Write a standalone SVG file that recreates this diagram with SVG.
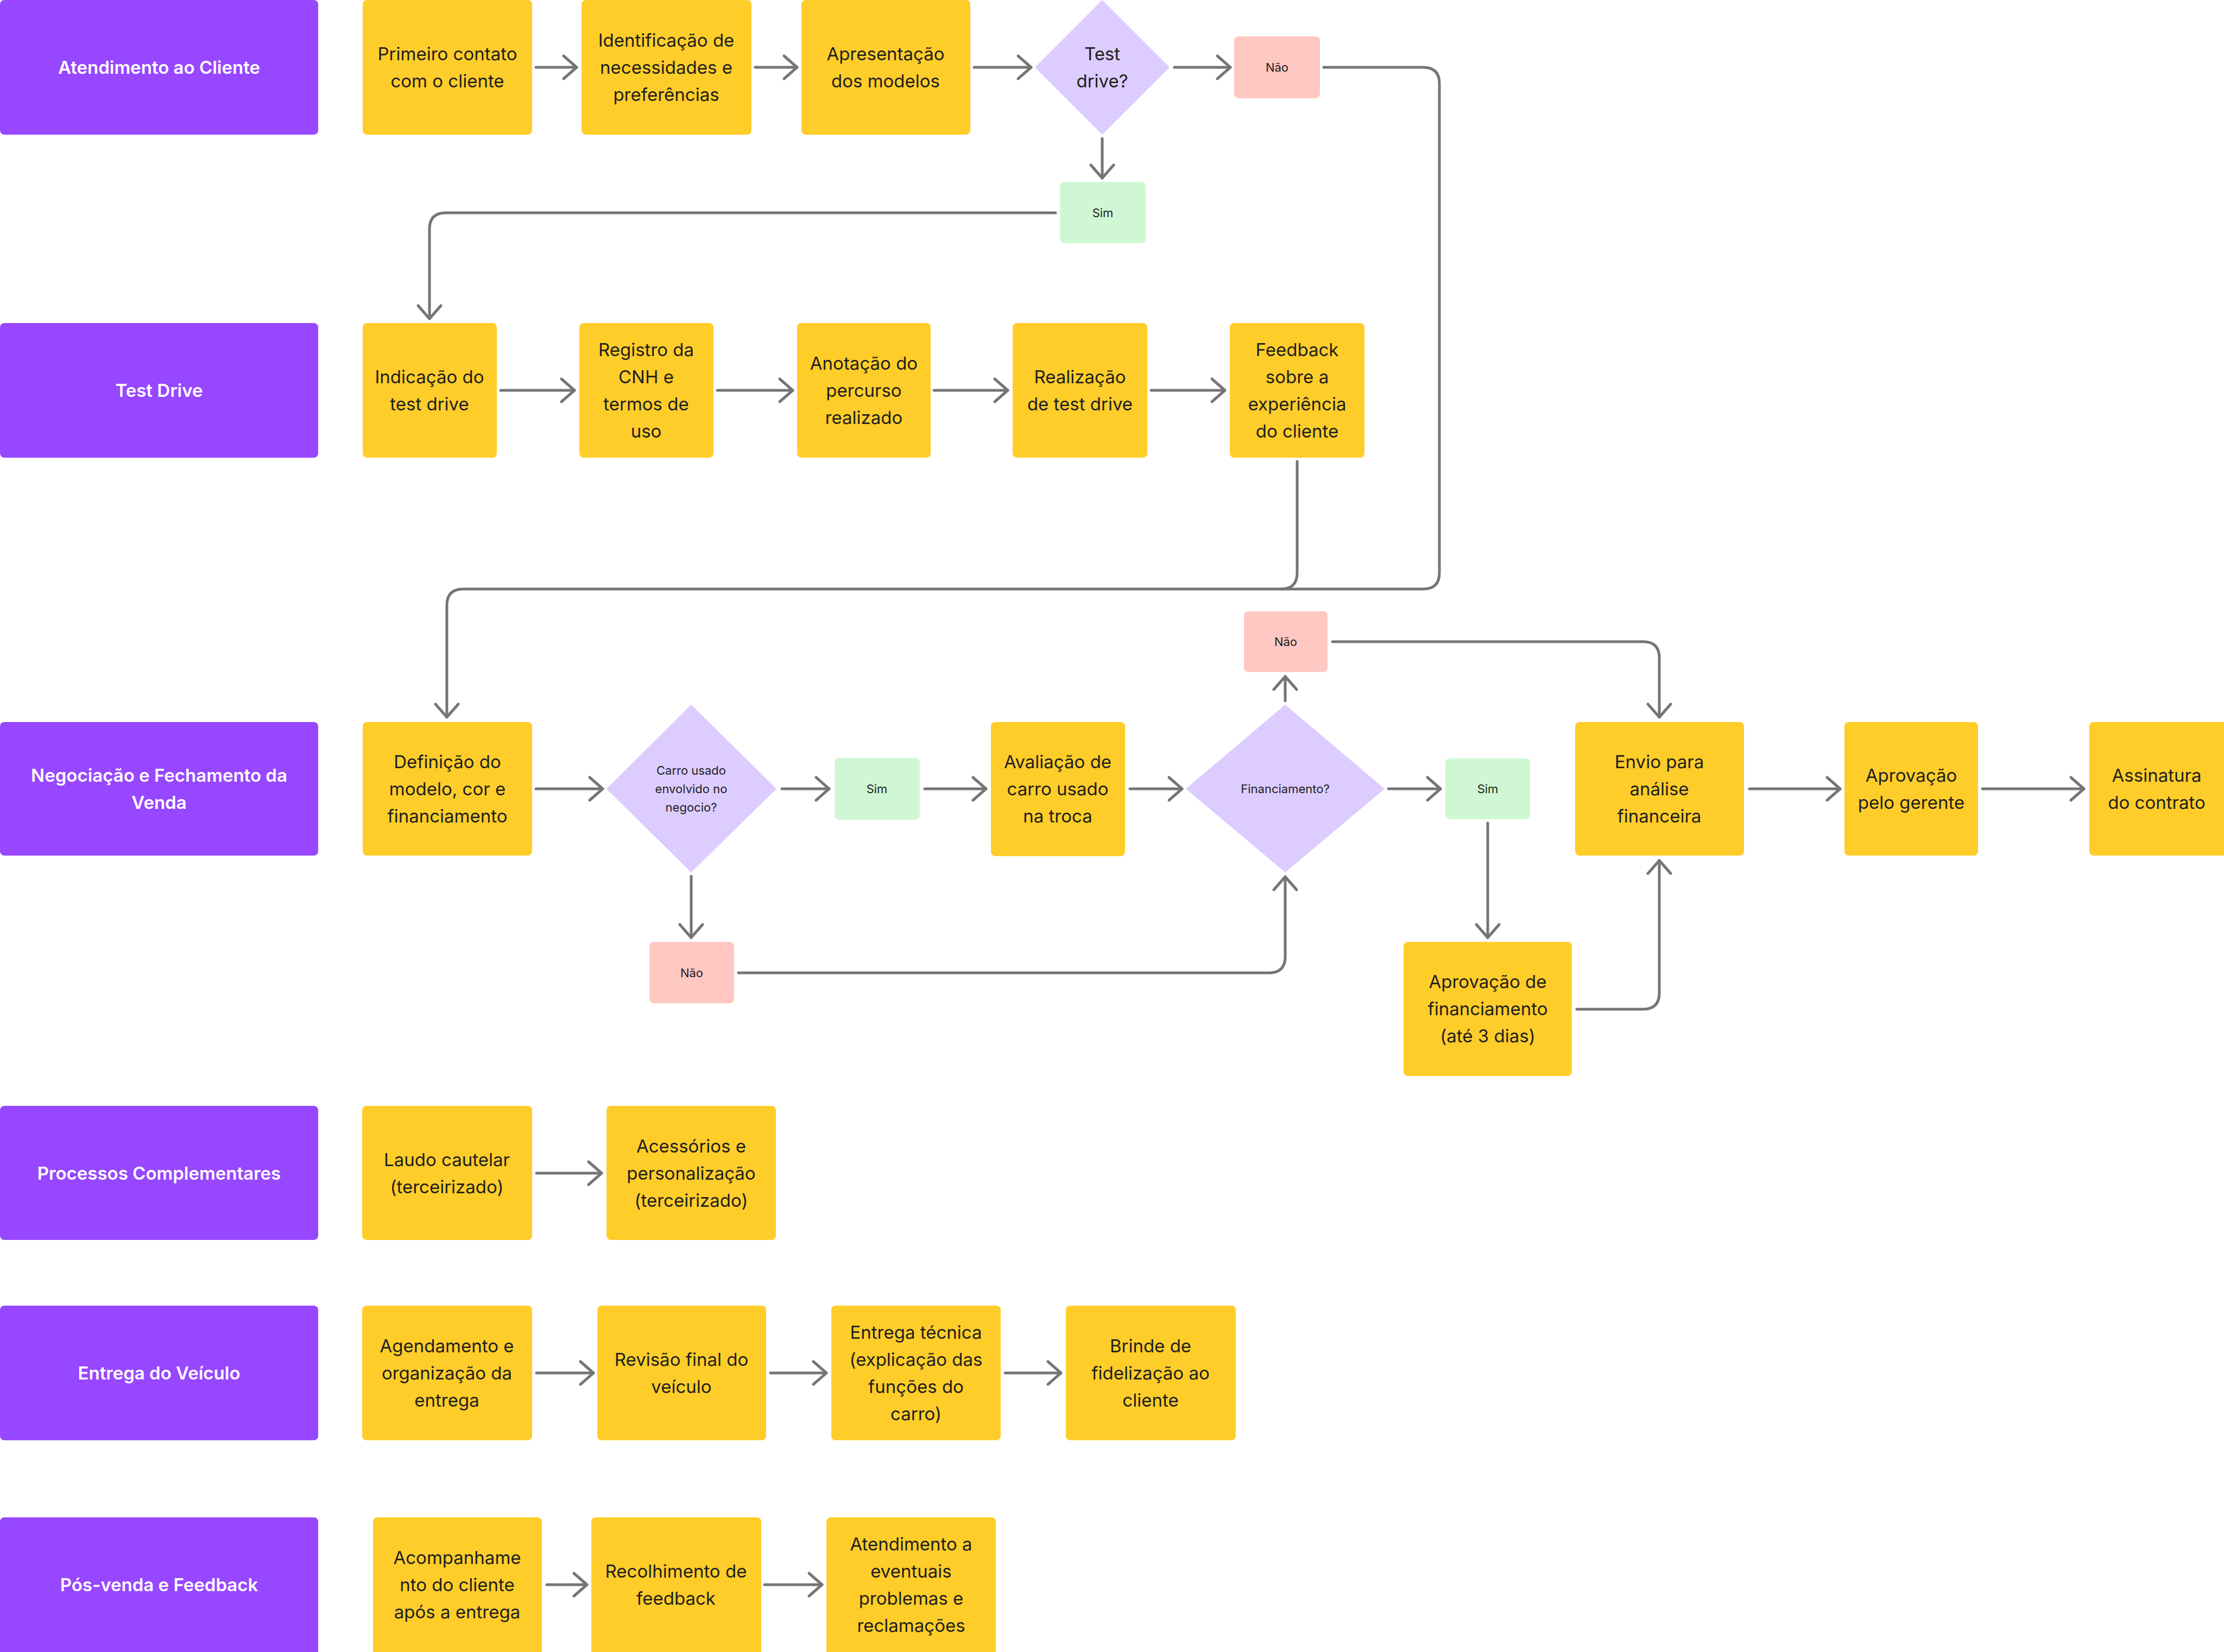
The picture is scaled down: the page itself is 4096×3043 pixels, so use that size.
<svg xmlns="http://www.w3.org/2000/svg" width="4096" height="3043" viewBox="0 0 4096 3043">
<style>
.lane{fill:#9747FF}
.box{fill:#FFCD29}
.no{fill:#FFC7C2}
.yes{fill:#CFF7D3}
.dec{fill:#DCCCFF}
text{font-family:Inter,"Liberation Sans",sans-serif;font-size:33px;fill:#1E1E1E;text-anchor:middle;dominant-baseline:central}
text.h{font-weight:600;fill:#FFFFFF}
text.s{font-size:22px}
.c{fill:none;stroke:#757575;stroke-width:5;stroke-linecap:round;stroke-linejoin:round;marker-end:url(#a)}
</style>
<defs>
<marker id="a" markerUnits="userSpaceOnUse" viewBox="-40 -40 80 80" markerWidth="80" markerHeight="80" refX="0" refY="0" orient="auto" overflow="visible">
<path d="M-24,-21 L0,0 L-24,21" fill="none" stroke="#757575" stroke-width="5" stroke-linecap="round" stroke-linejoin="round"/>
</marker>
</defs>
<rect width="4096" height="3043" fill="#FFFFFF"/>

<g id="connectors">
<path class="c" d="M987 124 H1062"/>
<path class="c" d="M1391 124 H1468"/>
<path class="c" d="M1794 124 H1899"/>
<path class="c" d="M2163 124 H2266"/>
<path class="c" d="M2030 255 V328"/>
<path class="c" d="M1944 392 H821 Q791 392 791 422 V587"/>
<path class="c" d="M2438 124 H2621 Q2651 124 2651 154 V1055 Q2651 1085 2621 1085 H853 Q823 1085 823 1115 V1321"/>
<path d="M2389 850 V1055 Q2389 1085 2359 1085" fill="none" stroke="#757575" stroke-width="5" stroke-linecap="round"/>
<path class="c" d="M922 719 H1058"/>
<path class="c" d="M1321 719 H1460"/>
<path class="c" d="M1720 719 H1856"/>
<path class="c" d="M2120 719 H2256"/>
<path class="c" d="M987 1453 H1110"/>
<path class="c" d="M1440 1453 H1527"/>
<path class="c" d="M1703 1453 H1816"/>
<path class="c" d="M2081 1453 H2177"/>
<path class="c" d="M2557 1453 H2653"/>
<path class="c" d="M3222 1453 H3389"/>
<path class="c" d="M3651 1453 H3838"/>
<path class="c" d="M1273 1614 V1727"/>
<path class="c" d="M1360 1792 H2337 Q2367 1792 2367 1762 V1615"/>
<path class="c" d="M2367 1291 V1246"/>
<path class="c" d="M2454 1182 H3026 Q3056 1182 3056 1212 V1321"/>
<path class="c" d="M2740 1516 V1727"/>
<path class="c" d="M2904 1859 H3026 Q3056 1859 3056 1829 V1585"/>
<path class="c" d="M988 2161 H1108"/>
<path class="c" d="M988 2529 H1093"/>
<path class="c" d="M1419 2529 H1522"/>
<path class="c" d="M1851 2529 H1954"/>
<path class="c" d="M1007 2919 H1081"/>
<path class="c" d="M1408 2919 H1514"/>
</g>

<g id="lane-atendimento"><rect class="lane" x="0" y="0" width="586" height="248" rx="8"/><text class="h" x="293" y="124">Atendimento ao Cliente</text></g>
<g id="lane-testdrive"><rect class="lane" x="0" y="595" width="586" height="248" rx="8"/><text class="h" x="293" y="719">Test Drive</text></g>
<g id="lane-negociacao"><rect class="lane" x="0" y="1330" width="586" height="246" rx="8"/><text class="h" x="293" y="1428">Negociação e Fechamento da<tspan x="293" y="1478">Venda</tspan></text></g>
<g id="lane-processos"><rect class="lane" x="0" y="2037" width="586" height="247" rx="8"/><text class="h" x="293" y="2161">Processos Complementares</text></g>
<g id="lane-entrega"><rect class="lane" x="0" y="2405" width="586" height="248" rx="8"/><text class="h" x="293" y="2529">Entrega do Veículo</text></g>
<g id="lane-posvenda"><rect class="lane" x="0" y="2795" width="586" height="260" rx="8"/><text class="h" x="293" y="2919">Pós-venda e Feedback</text></g>

<g id="primeiro-contato"><rect class="box" x="668" y="0" width="312" height="248" rx="8"/><text x="824" y="99">Primeiro contato<tspan x="824" y="149">com o cliente</tspan></text></g>
<g id="identificacao"><rect class="box" x="1071" y="0" width="313" height="248" rx="8"/><text x="1227" y="74">Identificação de<tspan x="1227" y="124">necessidades e</tspan><tspan x="1227" y="174">preferências</tspan></text></g>
<g id="apresentacao"><rect class="box" x="1476" y="0" width="311" height="248" rx="8"/><text x="1631" y="99">Apresentação<tspan x="1631" y="149">dos modelos</tspan></text></g>
<g id="test-drive-q"><polygon class="dec" points="2030,0 2154,124 2030,248 1906,124"/><text x="2030" y="99">Test<tspan x="2030" y="149">drive?</tspan></text></g>
<g id="nao-1"><rect class="no" x="2273" y="67" width="158" height="114" rx="8"/><text class="s" x="2352" y="124">Não</text></g>
<g id="sim-1"><rect class="yes" x="1952" y="335" width="158" height="113" rx="8"/><text class="s" x="2031" y="392">Sim</text></g>

<g id="indicacao"><rect class="box" x="668" y="595" width="247" height="248" rx="8"/><text x="791" y="694">Indicação do<tspan x="791" y="744">test drive</tspan></text></g>
<g id="registro"><rect class="box" x="1067" y="595" width="247" height="248" rx="8"/><text x="1190" y="644">Registro da<tspan x="1190" y="694">CNH e</tspan><tspan x="1190" y="744">termos de</tspan><tspan x="1190" y="794">uso</tspan></text></g>
<g id="anotacao"><rect class="box" x="1468" y="595" width="246" height="248" rx="8"/><text x="1591" y="669">Anotação do<tspan x="1591" y="719">percurso</tspan><tspan x="1591" y="769">realizado</tspan></text></g>
<g id="realizacao"><rect class="box" x="1865" y="595" width="248" height="248" rx="8"/><text x="1989" y="694">Realização<tspan x="1989" y="744">de test drive</tspan></text></g>
<g id="feedback-exp"><rect class="box" x="2265" y="595" width="248" height="248" rx="8"/><text x="2389" y="644">Feedback<tspan x="2389" y="694">sobre a</tspan><tspan x="2389" y="744">experiência</tspan><tspan x="2389" y="794">do cliente</tspan></text></g>

<g id="definicao"><rect class="box" x="668" y="1330" width="312" height="246" rx="8"/><text x="824" y="1403">Definição do<tspan x="824" y="1453">modelo, cor e</tspan><tspan x="824" y="1503">financiamento</tspan></text></g>
<g id="carro-usado-q"><polygon class="dec" points="1273,1298 1430,1453 1273,1607 1117,1453"/><text class="s" x="1273" y="1419">Carro usado<tspan x="1273" y="1453">envolvido no</tspan><tspan x="1273" y="1487">negocio?</tspan></text></g>
<g id="sim-2"><rect class="yes" x="1537" y="1396" width="157" height="114" rx="8"/><text class="s" x="1615" y="1453">Sim</text></g>
<g id="nao-2"><rect class="no" x="1196" y="1735" width="156" height="113" rx="8"/><text class="s" x="1274" y="1792">Não</text></g>
<g id="avaliacao"><rect class="box" x="1825" y="1330" width="247" height="247" rx="8"/><text x="1948" y="1403">Avaliação de<tspan x="1948" y="1453">carro usado</tspan><tspan x="1948" y="1503">na troca</tspan></text></g>
<g id="financiamento-q"><polygon class="dec" points="2367,1298 2550,1453 2367,1607 2184,1453"/><text class="s" x="2367" y="1453">Financiamento?</text></g>
<g id="nao-3"><rect class="no" x="2291" y="1126" width="154" height="112" rx="8"/><text class="s" x="2368" y="1182">Não</text></g>
<g id="sim-3"><rect class="yes" x="2662" y="1397" width="156" height="112" rx="8"/><text class="s" x="2740" y="1453">Sim</text></g>
<g id="aprovacao-financiamento"><rect class="box" x="2585" y="1735" width="310" height="247" rx="8"/><text x="2740" y="1808">Aprovação de<tspan x="2740" y="1858">financiamento</tspan><tspan x="2740" y="1908">(até 3 dias)</tspan></text></g>
<g id="envio"><rect class="box" x="2901" y="1330" width="311" height="246" rx="8"/><text x="3056" y="1403">Envio para<tspan x="3056" y="1453">análise</tspan><tspan x="3056" y="1503">financeira</tspan></text></g>
<g id="aprovacao-gerente"><rect class="box" x="3397" y="1330" width="246" height="246" rx="8"/><text x="3520" y="1428">Aprovação<tspan x="3520" y="1478">pelo gerente</tspan></text></g>
<g id="assinatura"><rect class="box" x="3848" y="1330" width="260" height="246" rx="8"/><text x="3972" y="1428">Assinatura<tspan x="3972" y="1478">do contrato</tspan></text></g>

<g id="laudo"><rect class="box" x="667" y="2037" width="313" height="247" rx="8"/><text x="823" y="2136">Laudo cautelar<tspan x="823" y="2186">(terceirizado)</tspan></text></g>
<g id="acessorios"><rect class="box" x="1117" y="2037" width="312" height="247" rx="8"/><text x="1273" y="2111">Acessórios e<tspan x="1273" y="2161">personalização</tspan><tspan x="1273" y="2211">(terceirizado)</tspan></text></g>

<g id="agendamento"><rect class="box" x="667" y="2405" width="313" height="248" rx="8"/><text x="823" y="2479">Agendamento e<tspan x="823" y="2529">organização da</tspan><tspan x="823" y="2579">entrega</tspan></text></g>
<g id="revisao"><rect class="box" x="1100" y="2405" width="311" height="248" rx="8"/><text x="1255" y="2504">Revisão final do<tspan x="1255" y="2554">veículo</tspan></text></g>
<g id="entrega-tecnica"><rect class="box" x="1531" y="2405" width="312" height="248" rx="8"/><text x="1687" y="2454">Entrega técnica<tspan x="1687" y="2504">(explicação das</tspan><tspan x="1687" y="2554">funções do</tspan><tspan x="1687" y="2604">carro)</tspan></text></g>
<g id="brinde"><rect class="box" x="1963" y="2405" width="313" height="248" rx="8"/><text x="2119" y="2479">Brinde de<tspan x="2119" y="2529">fidelização ao</tspan><tspan x="2119" y="2579">cliente</tspan></text></g>

<g id="acompanhamento"><rect class="box" x="687" y="2795" width="311" height="260" rx="8"/><text x="842" y="2869">Acompanhame<tspan x="842" y="2919">nto do cliente</tspan><tspan x="842" y="2969">após a entrega</tspan></text></g>
<g id="recolhimento"><rect class="box" x="1089" y="2795" width="313" height="260" rx="8"/><text x="1245" y="2894">Recolhimento de<tspan x="1245" y="2944">feedback</tspan></text></g>
<g id="atendimento-problemas"><rect class="box" x="1522" y="2795" width="312" height="260" rx="8"/><text x="1678" y="2844">Atendimento a<tspan x="1678" y="2894">eventuais</tspan><tspan x="1678" y="2944">problemas e</tspan><tspan x="1678" y="2994">reclamações</tspan></text></g>
</svg>
